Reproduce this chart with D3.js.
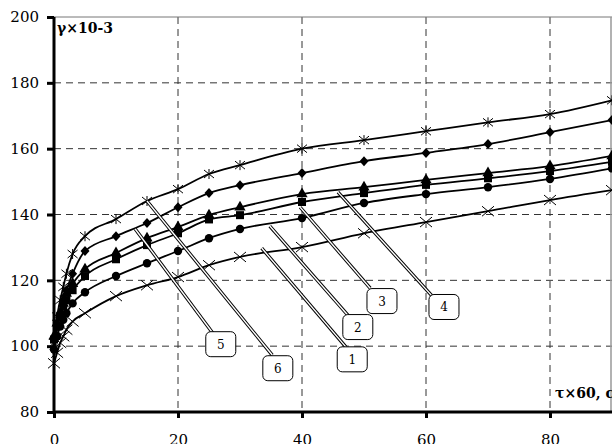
<!DOCTYPE html>
<html>
<head>
<meta charset="utf-8">
<script src="https://cdn.jsdelivr.net/npm/d3@7"></script>
<style>
body { margin: 0; background: #fff; }
svg { display: block; }
</style>
</head>
<body>
<div id="chart"></div>
<script>

var margin = {top: 17, left: 54};
var width = 620;
var height = 395;

// time points (x axis)
var times = [0, 0.5, 1, 1.5, 2, 3, 5, 10, 15, 20, 25, 30, 40, 50, 60, 70, 80, 90];

// series values
var s1 = [94.8, 98, 101, 103, 105, 107.5, 110, 115.2, 118.5, 121, 124.6, 127.1, 130.1, 134.3, 137.7, 141, 144.4, 147.4];
var s2 = [99, 103, 106, 108, 110, 113, 116.4, 121.3, 125.2, 128.9, 132.8, 135.6, 138.9, 143.5, 146.2, 148.3, 150.8, 154];
var s3 = [102, 106, 109, 112, 114, 117, 121.3, 126.4, 130.7, 134.3, 138.5, 139.8, 143.8, 146.5, 149, 151, 153.2, 156];
var s4 = [103, 107, 110, 113, 116, 119, 123.4, 128.3, 132.8, 136.2, 139.8, 142.2, 146.2, 148.3, 150.5, 152.6, 154.7, 157.8];
var s5 = [99, 106, 110, 114, 117, 122, 128.9, 133.4, 137.4, 142.2, 146.5, 148.9, 152.6, 156.2, 158.7, 161.4, 165, 168.7];
var s6 = [101, 109, 114, 118, 122, 128, 133.4, 138.6, 144.1, 147.7, 152.3, 155, 160, 162.6, 165.3, 168, 170.5, 174.7];

var seriesNames = ["1", "2", "3", "4", "5", "6"];
var seriesMarks = ["cross", "circle", "square", "triangle", "diamond", "star"];
var seriesVals = [s1, s2, s3, s4, s5, s6];

var xTicks = [0, 20, 40, 60, 80];
var yTicks = [80, 100, 120, 140, 160, 180, 200];

// callouts: curve anchor (t, v), box corner end (t, v), box centre (t, v)
var calloutAnchor = [[33.5, 129.8], [34.8, 136.5], [39.7, 142.2], [45.8, 146.8], [13.1, 135.6], [15, 144.1]];
var calloutEnd = [[47.1, 99.7], [47.4, 109.4], [51, 117.6], [61, 115.2], [25.6, 104], [35.2, 97.3]];
var calloutBox = [[48.1, 96.0], [49.0, 105.8], [52.9, 113.7], [62.9, 111.9], [26.9, 100.6], [36.1, 93.3]];

var serif = "'DejaVu Serif', serif";

var svg = d3.select("#chart")
  .append("svg")
  .attr("width", 612)
  .attr("height", 444);

var g = svg.append("g")
  .attr("transform", "translate(" + margin.left + "," + margin.top + ")");

var xScale = d3.scaleLinear().domain([0, 100]).range([0, width]);
var yScale = d3.scaleLinear().domain([80, 200]).range([height, 0]);

// grid
g.selectAll(".vgrid")
  .data(xTicks.slice(1))
  .enter()
  .append("line")
  .attr("x1", function(d) { return xScale(d); })
  .attr("x2", function(d) { return xScale(d); })
  .attr("y1", 0)
  .attr("y2", height)
  .attr("stroke", "#333")
  .attr("stroke-dasharray", "7,5");

g.selectAll(".hgrid")
  .data(yTicks.slice(1, -1))
  .enter()
  .append("line")
  .attr("x1", 0)
  .attr("x2", width)
  .attr("y1", function(d) { return yScale(d); })
  .attr("y2", function(d) { return yScale(d); })
  .attr("stroke", "#333")
  .attr("stroke-dasharray", "7,5");

// plot border top / right edge
g.append("line")
  .attr("x1", 0).attr("x2", width)
  .attr("y1", yScale(200)).attr("y2", yScale(200))
  .attr("stroke", "#777");
g.append("line")
  .attr("x1", 557).attr("x2", 557)
  .attr("y1", 0).attr("y2", height)
  .attr("stroke", "#999")
  .attr("stroke-width", 1.5);

// axes
var xAxis = g.append("g")
  .attr("transform", "translate(0," + height + ")")
  .call(d3.axisBottom(xScale).tickValues(xTicks).tickSize(6).tickPadding(16));
var yAxis = g.append("g")
  .call(d3.axisLeft(yScale).tickValues(yTicks).tickSize(7).tickPadding(8));

xAxis.select(".domain").attr("stroke-width", 3).attr("d", "M0,0H" + width);
yAxis.select(".domain").attr("stroke-width", 3).attr("d", "M0," + height + "V0");
xAxis.selectAll(".tick line").attr("stroke-width", 3);
yAxis.selectAll(".tick line").attr("stroke-width", 3);
g.selectAll(".tick text")
  .attr("font-family", serif)
  .attr("font-size", 15)
  .attr("fill", "#000");
xAxis.attr("font-family", serif);
yAxis.attr("font-family", serif);

// lines
var line = d3.line()
  .x(function(d) { return xScale(d[0]); })
  .y(function(d) { return yScale(d[1]); })
  .curve(d3.curveMonotoneX);

seriesVals.forEach(function(vals, i) {
  var pts = times.map(function(t, j) { return [t, vals[j]]; });
  g.append("path")
    .datum(pts)
    .attr("fill", "none")
    .attr("stroke", "#000")
    .attr("stroke-width", 1.8)
    .attr("d", line);

  var m = seriesMarks[i];
  var marks = g.selectAll(".m" + i)
    .data(pts)
    .enter()
    .append("g")
    .attr("transform", function(d) { return "translate(" + xScale(d[0]) + "," + yScale(d[1]) + ")"; });

  if (m == "circle") {
    marks.append("circle").attr("r", 4.2).attr("fill", "#000");
  } else if (m == "square") {
    marks.append("rect").attr("x", -4).attr("y", -4).attr("width", 8).attr("height", 8).attr("fill", "#000");
  } else if (m == "triangle") {
    marks.append("path").attr("d", d3.symbol().type(d3.symbolTriangle).size(55)).attr("fill", "#000");
  } else if (m == "diamond") {
    marks.append("path").attr("d", "M0,-5L4.5,0L0,5L-4.5,0Z").attr("fill", "#000");
  } else if (m == "cross") {
    marks.append("path").attr("d", "M-6,-5L6,5M-6,5L6,-5").attr("stroke", "#000").attr("stroke-width", 1);
  } else {
    marks.append("path").attr("d", "M-5,-4L5,4M-5,4L5,-4M0,-5V5").attr("stroke", "#000").attr("stroke-width", 1);
  }
});

// callouts
seriesNames.forEach(function(name, i) {
  var a = calloutAnchor[i], e = calloutEnd[i], b = calloutBox[i];
  g.append("line")
    .attr("x1", xScale(a[0])).attr("y1", yScale(a[1]))
    .attr("x2", xScale(e[0])).attr("y2", yScale(e[1]))
    .attr("stroke", "#000").attr("stroke-width", 3.4);
  g.append("line")
    .attr("x1", xScale(a[0])).attr("y1", yScale(a[1]))
    .attr("x2", xScale(e[0])).attr("y2", yScale(e[1]))
    .attr("stroke", "#fff").attr("stroke-width", 1.4);
  g.append("rect")
    .attr("x", xScale(b[0]) - 15).attr("y", yScale(b[1]) - 12.5)
    .attr("width", 30).attr("height", 25)
    .attr("rx", 5)
    .attr("fill", "#fff").attr("stroke", "#000").attr("stroke-width", 1);
  g.append("text")
    .attr("x", xScale(b[0])).attr("y", yScale(b[1]) + 4.5)
    .attr("font-family", serif)
    .attr("font-size", 12)
    .style("text-anchor", "middle")
    .text(name);
});

svg.append("text")
  .attr("x", 57).attr("y", 33)
  .attr("font-family", serif)
  .attr("font-size", 14)
  .attr("font-weight", "bold")
  .text("γ×10-3");

svg.append("text")
  .attr("x", 555).attr("y", 398)
  .attr("font-family", serif)
  .attr("font-size", 14)
  .attr("font-weight", "bold")
  .text("τ×60, c");

</script>
</body>
</html>
